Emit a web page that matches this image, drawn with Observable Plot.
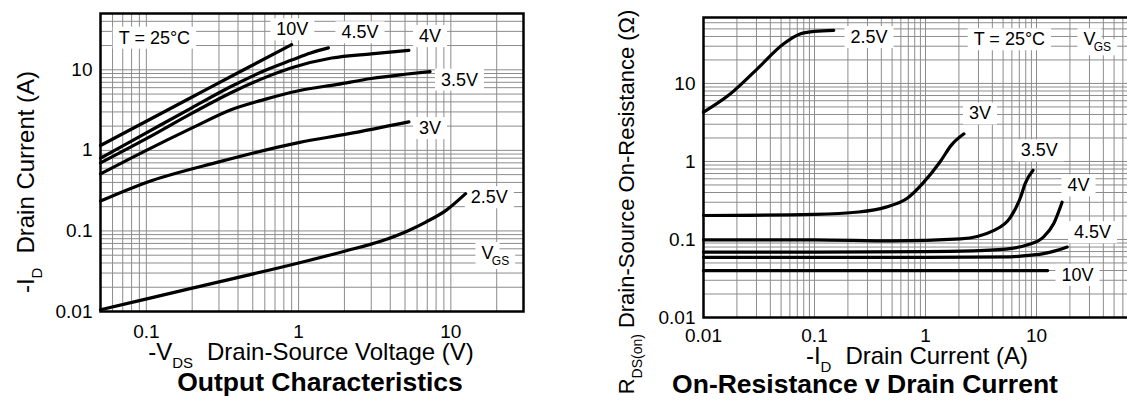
<!DOCTYPE html>
<html>
<head>
<meta charset="utf-8">
<script src="https://cdn.jsdelivr.net/npm/d3@7"></script>
<script src="https://cdn.jsdelivr.net/npm/@observablehq/plot@0.6"></script>
<style>
  html, body { margin: 0; padding: 0; background: #fff; overflow: hidden; }
  #wrap { position: relative; width: 1127px; height: 403px; overflow: hidden; background: #fff; }
  #left { position: absolute; left: 0; top: 0; width: 540px; }
  #right { position: absolute; left: 560px; top: 0; width: 600px; }
  #wrap svg { max-width: none !important; }
</style>
</head>
<body>
<div id="wrap"><div id="left"></div><div id="right"></div></div>
<script>
// ---------------- Output Characteristics (-ID vs -VDS) ----------------
const outDomainX = [0.05, 30];
const outDomainY = [0.01, 50];
const outTicksX = [0.1, 1, 10];
const outTicksY = [0.01, 0.1, 1, 10];

const outVds10 = [0.05, 0.1, 0.2, 0.4, 0.9];
const outId10  = [1.15, 2.3, 4.6, 9.2, 20.5];
const outVds45 = [0.05, 0.1, 0.2, 0.36, 0.6, 0.9, 1.2, 1.57];
const outId45  = [0.8, 1.65, 3.4, 6.2, 9.8, 13.2, 16.2, 18.7];
const outVds4  = [0.05, 0.1, 0.2, 0.36, 0.6, 0.9, 1.65, 3.0, 5.3];
const outId4   = [0.7, 1.4, 2.9, 5.2, 8.0, 10.6, 14, 15.8, 17.4];
const outVds35 = [0.05, 0.1, 0.2, 0.36, 0.6, 1.0, 1.8, 3.0, 5.0, 7.3];
const outId35  = [0.51, 1.0, 1.9, 3.2, 4.3, 5.5, 6.6, 7.8, 8.8, 9.5];
const outVds3  = [0.05, 0.1, 0.3, 1.0, 2.1, 5.3];
const outId3   = [0.235, 0.4, 0.72, 1.25, 1.6, 2.26];
const outVds25 = [0.05, 0.2, 1.0, 2.0, 3.5, 5.2, 6.8, 9.3, 12.5];
const outId25  = [0.0105, 0.0195, 0.04, 0.056, 0.075, 0.1, 0.128, 0.18, 0.29];

const outLabelText = ["10V", "4.5V", "4V", "3.5V", "3V", "2.5V", "T = 25°C", "V"];
const outLabelX    = [0.91, 2.53, 7.3, 11.4, 7.3, 17.9, 0.113, 17.4];
const outLabelY    = [31.6, 29, 26, 7.5, 1.88, 0.26, 24.9, 0.053];

// ---------------- On-Resistance v Drain Current ----------------
const resDomainX = [0.01, 100];
const resDomainY = [0.01, 70];
const resTicksX = [0.01, 0.1, 1, 10];
const resTicksY = [0.01, 0.1, 1, 10];

const resId25 = [0.01, 0.0175, 0.0305, 0.0528, 0.075, 0.1, 0.149];
const resR25  = [4.3, 7.4, 15.4, 32.3, 43.4, 46.5, 48];
const resId3  = [0.01, 0.1, 0.25, 0.44, 0.69, 0.94, 1.36, 1.71, 2.22];
const resR3   = [0.203, 0.21, 0.225, 0.26, 0.34, 0.52, 1.0, 1.62, 2.26];
const resId35 = [0.01, 0.1, 0.5, 2.07, 4.1, 5.8, 7.2, 7.9, 9.3];
const resR35  = [0.099, 0.099, 0.096, 0.102, 0.13, 0.19, 0.35, 0.52, 0.77];
const resId4  = [0.01, 0.1, 1, 3, 6, 8.2, 11.6, 14.3, 17];
const resR4   = [0.069, 0.069, 0.07, 0.072, 0.077, 0.085, 0.108, 0.16, 0.30];
const resId45 = [0.01, 1, 5.8, 9, 11.6, 15, 18.9];
const resR45  = [0.059, 0.059, 0.06, 0.063, 0.066, 0.072, 0.08];
const resId10 = [0.01, 1, 12.6];
const resR10  = [0.04, 0.04, 0.04];

const resLabelText = ["2.5V", "3V", "3.5V", "4V", "4.5V", "10V", "T = 25°C", "V"];
const resLabelX    = [0.31, 3.1, 10.6, 23.9, 32, 23.4, 5.7, 30];
const resLabelY    = [39, 4.1, 1.38, 0.49, 0.123, 0.035, 36.6, 36.6];

// ---------------- helpers ----------------
const FONT = "'Liberation Sans', Arial, Helvetica, sans-serif";
const GRID = "#8c8c8c";
const NS = "http://www.w3.org/2000/svg";

function rowsOf(series) {
  return series.flatMap(([k, xs, ys]) => xs.map((x, i) => ({k, x, y: ys[i]})));
}
function labelsOf(texts, xs, ys) {
  return texts.map((t, i) => ({t, x: xs[i], y: ys[i]}));
}
function gridValues(domain) {
  return d3.scaleLog().domain(domain).ticks();
}

function chart({width, height, margins, domainX, domainY, ticksX, ticksY, padX, rows, labels, subIndex}) {
  const lab = labels.filter((d, i) => i !== subIndex);
  const vg = [labels[subIndex]];
  return Plot.plot({
    width, height,
    marginLeft: margins[0], marginRight: margins[1], marginTop: margins[2], marginBottom: margins[3],
    style: {fontFamily: FONT, fontSize: "19px", color: "black", background: "transparent", overflow: "visible"},
    x: {type: "log", domain: domainX, ticks: ticksX, tickFormat: d => String(d), tickSize: 0, tickPadding: padX, label: null},
    y: {type: "log", domain: domainY, ticks: ticksY, tickFormat: d => String(d), tickSize: 0, tickPadding: 8, label: null},
    marks: [
      Plot.ruleX(gridValues(domainX), {stroke: GRID, strokeWidth: 1}),
      Plot.ruleY(gridValues(domainY), {stroke: GRID, strokeWidth: 1}),
      Plot.line(rows, {x: "x", y: "y", z: "k", curve: "monotone-x", stroke: "black", strokeWidth: 3.2, className: "curves"}),
      Plot.frame({stroke: "black", strokeWidth: 2.5}),
      Plot.text(lab, {x: "x", y: "y", text: "t", fontSize: 18, fill: "black", className: "labels"}),
      Plot.text(vg, {x: "x", y: "y", text: "t", fontSize: 18, fill: "black", className: "labels"}),
      Plot.text(vg, {x: "x", y: "y", text: () => "GS", fontSize: 12, dx: 13, dy: 8, fill: "black", className: "labels"})
    ]
  });
}

function addBoxes(svg, padX, padY) {
  const sr = svg.getBoundingClientRect();
  let texts = svg.querySelectorAll('g.labels text');
  if (!texts.length) texts = svg.querySelectorAll('g[aria-label="text"] text');
  let curves = svg.querySelector('g.curves') || svg.querySelector('g[aria-label="line"]');
  const g = document.createElementNS(NS, "g");
  texts.forEach(t => {
    const r = t.getBoundingClientRect();
    const rect = document.createElementNS(NS, "rect");
    rect.setAttribute("x", r.left - sr.left - padX);
    rect.setAttribute("y", r.top - sr.top - padY);
    rect.setAttribute("width", r.width + 2 * padX);
    rect.setAttribute("height", r.height + 2 * padY);
    rect.setAttribute("fill", "white");
    g.appendChild(rect);
  });
  if (curves) curves.parentNode.insertBefore(g, curves);
  else svg.appendChild(g);
}

function addText(svg, {x, y, rotate = 0, size, bold = false, parts}) {
  const t = d3.select(svg).append("text")
    .attr("transform", `translate(${x},${y}) rotate(${rotate})`)
    .attr("text-anchor", "middle")
    .attr("font-family", FONT)
    .attr("font-size", size)
    .attr("font-weight", bold ? "bold" : "normal")
    .attr("fill", "black");
  let shift = 0;
  parts.forEach(p => {
    const ts = t.append("tspan").text(p.t);
    if (p.sub) {
      ts.attr("font-size", p.subSize || 15).attr("dy", 8 - shift);
      shift = 8;
    } else {
      ts.attr("dy", -shift);
      shift = 0;
    }
    if (p.gap) ts.attr("dx", p.gap);
  });
}

// ---------------- build ----------------
const outRows = rowsOf([
  ["10V", outVds10, outId10], ["4.5V", outVds45, outId45], ["4V", outVds4, outId4],
  ["3.5V", outVds35, outId35], ["3V", outVds3, outId3], ["2.5V", outVds25, outId25]
]);
const resRows = rowsOf([
  ["2.5V", resId25, resR25], ["3V", resId3, resR3], ["3.5V", resId35, resR35],
  ["4V", resId4, resR4], ["4.5V", resId45, resR45], ["10V", resId10, resR10]
]);

const leftSvg = chart({
  width: 540, height: 403, margins: [100, 17, 13, 92],
  domainX: outDomainX, domainY: outDomainY, ticksX: outTicksX, ticksY: outTicksY, padX: 13,
  rows: outRows, labels: labelsOf(outLabelText, outLabelX, outLabelY), subIndex: 7
});
document.getElementById("left").appendChild(leftSvg);

const rightSvg = chart({
  width: 600, height: 403, margins: [143, 13, 17, 86],
  domainX: resDomainX, domainY: resDomainY, ticksX: resTicksX, ticksY: resTicksY, padX: 11,
  rows: resRows, labels: labelsOf(resLabelText, resLabelX, resLabelY), subIndex: 7
});
document.getElementById("right").appendChild(rightSvg);

addBoxes(leftSvg, 6, 1);
addBoxes(rightSvg, 6, 1);

// axis titles and chart titles
addText(leftSvg, {x: 311, y: 360, size: 24, parts: [{t: "-V"}, {t: "DS", sub: true}, {t: "Drain-Source Voltage (V)", gap: 14}]});
addText(leftSvg, {x: 320, y: 391, size: 26.5, bold: true, parts: [{t: "Output Characteristics"}]});
addText(leftSvg, {x: 34, y: 182, rotate: -90, size: 24, parts: [{t: "-I"}, {t: "D", sub: true}, {t: "Drain Current (A)", gap: 14}]});

addText(rightSvg, {x: 357, y: 364, size: 24, parts: [{t: "-I"}, {t: "D", sub: true}, {t: "Drain Current (A)", gap: 14}]});
addText(rightSvg, {x: 305, y: 393, size: 26.5, bold: true, parts: [{t: "On-Resistance v Drain Current"}]});
addText(rightSvg, {x: 74, y: 202, rotate: -90, size: 22, parts: [{t: "R"}, {t: "DS(on)", sub: true, subSize: 14}, {t: "Drain-Source On-Resistance (Ω)", gap: 6}]});
</script>
</body>
</html>
